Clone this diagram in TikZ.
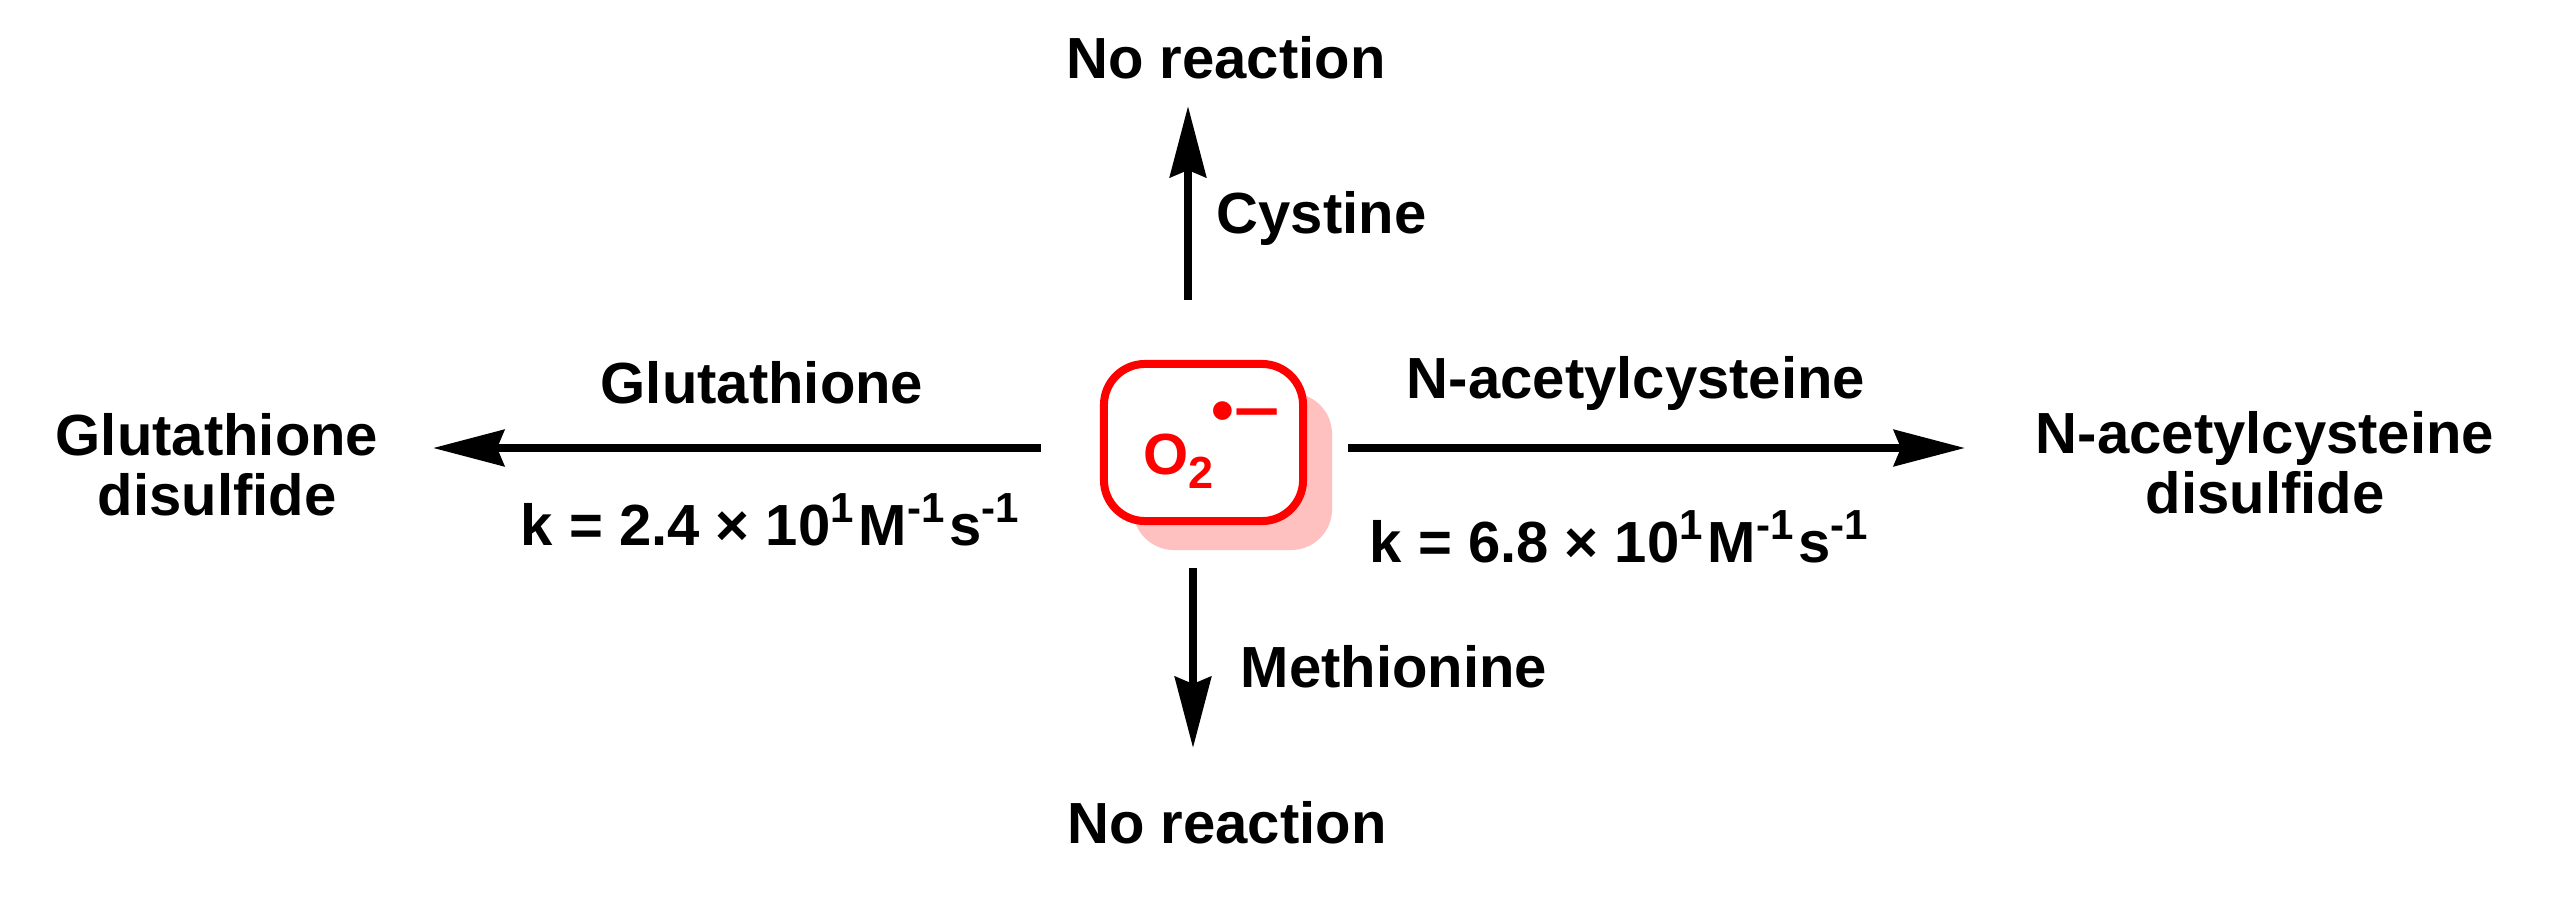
\documentclass[tikz,border=0pt]{standalone}
\usepackage{fontspec}
\usepackage{graphicx}
\setmainfont{Liberation Sans}
\usetikzlibrary{arrows.meta,shadows}
\definecolor{shadowpink}{RGB}{255,192,192}
\newcommand\labfont{\fontsize{0.58cm}{0.6cm}\selectfont\bfseries}
\newcommand\supx[1]{\raisebox{0.22cm}{\fontsize{0.42cm}{0.42cm}\selectfont #1}\kern0.05cm}
\newcommand\subx[1]{\raisebox{-0.14cm}{\fontsize{0.45cm}{0.45cm}\selectfont #1}}
\begin{document}
\begin{tikzpicture}[x=0.01cm,y=-0.01cm,
  lbl/.style={font=\labfont, inner sep=0pt, anchor=base},
  rxn/.style={line width=0.08cm, -{Stealth[length=0.71cm,width=0.36cm,inset=0.07cm]}},
  radbox/.style={draw=red, line width=0.08cm, fill=white, rounded corners=0.41cm,
    minimum width=1.99cm, minimum height=1.57cm, inner sep=0pt,
    drop shadow={shadow xshift=0.29cm, shadow yshift=-0.29cm, fill=shadowpink, opacity=1}}]
\useasboundingbox (0,0) rectangle (2554,903);
% central species
\node[radbox] (box) at (1203.5,442.5) {};
\node[lbl, anchor=base west, text=red] (o2) at (1143,474) {O\subx{2}};
\node[lbl, anchor=base west, text=red, font={\fontsize{0.65cm}{0.65cm}\selectfont\bfseries}] (rad) at (1211,432) {•\raisebox{0.03cm}{\scalebox{1.25}[1]{–}}};
% labels
\node[lbl] (nrtop) at (1226,78) {No reaction};
\node[lbl, anchor=base west] (cys) at (1216,233) {Cystine};
\node[lbl] (glulab) at (762,403) {Glutathione};
\node[lbl] (naclab) at (1636,398) {N-acetylcysteine};
\node[lbl, anchor=north, align=center] (gssg) at (217,413) {Glutathione\\disulfide};
\node[lbl, anchor=north, align=center] (nacss) at (2265,411) {N-acetylcysteine\\disulfide};
\node[lbl, anchor=base west] (kl) at (520,545) {k = 2.4 × 10\supx{1}M\supx{-1}s\supx{-1}};
\node[lbl, anchor=base west] (kr) at (1369,562) {k = 6.8 × 10\supx{1}M\supx{-1}s\supx{-1}};
\node[lbl, anchor=base west] (met) at (1240,687) {Methionine};
\node[lbl] (nrbot) at (1227,843) {No reaction};
% arrow end points
\coordinate (lA) at (1041,448); \coordinate (lB) at (433,448);
\coordinate (rA) at (1348,448); \coordinate (rB) at (1965,448);
\coordinate (uA) at (1188,300); \coordinate (uB) at (1188,106);
\coordinate (dA) at (1193,568); \coordinate (dB) at (1193,748);
\draw[rxn] (lA) -- (lB);
\draw[rxn] (rA) -- (rB);
\draw[rxn] (uA) -- (uB);
\draw[rxn] (dA) -- (dB);
\end{tikzpicture}
\end{document}
